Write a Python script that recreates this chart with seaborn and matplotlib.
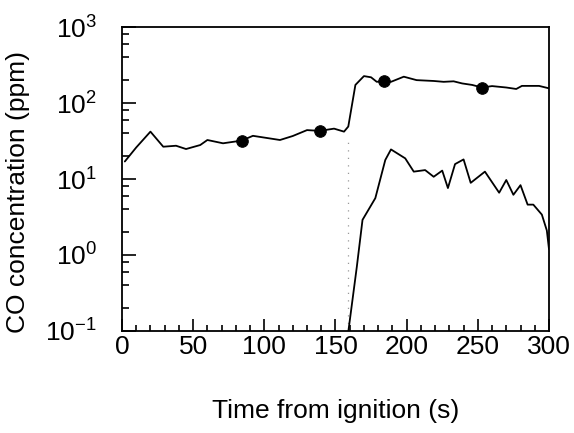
import numpy as np
import pandas as pd
import matplotlib
matplotlib.use('Agg')
import matplotlib.pyplot as plt
import matplotlib.ticker as mticker
import seaborn as sns

# upper trace (with markers)
upper_t = [2, 10, 20, 29, 38, 45, 55, 60, 71, 84, 92, 111, 120, 130, 139, 149, 156, 159,
           164, 170, 175, 179, 184, 189, 198, 207, 219, 226, 233, 239, 246, 253, 260, 270,
           277, 281, 293, 300]
upper_y = [17, 26, 42, 26.6, 27.4, 24.8, 28, 32.6, 29.5, 32, 37, 32.6, 36.8, 44, 43, 46, 42, 49,
           173, 226, 218, 190, 195, 190, 222, 200, 195, 190, 193, 181, 173, 160, 167, 160,
           153, 168, 168, 156]

# lower trace
lower_t = [158, 165, 169, 178, 185, 189, 199, 205, 213, 219, 225, 229, 234, 240, 245, 255,
           265, 270, 275, 280, 285, 289, 295, 298.5, 300]
lower_y = [0.07, 0.7, 2.9, 5.6, 17.8, 24.5, 18.7, 12.5, 13.1, 10.7, 12.9, 7.6, 15.7, 18.1, 8.9,
           12.5, 6.6, 9.7, 6.2, 8.3, 4.6, 4.6, 3.4, 2.1, 1.2]

marker_t = [84, 139, 184, 253]
marker_y = [32, 43, 195, 156]

gap_t = 159
gap_lo, gap_hi = 0.1, 35

sns.set_style('ticks')
plt.rcParams['font.family'] = ['Liberation Sans', 'DejaVu Sans']
plt.rcParams['mathtext.fontset'] = 'custom'
plt.rcParams['mathtext.rm'] = 'Liberation Sans'
plt.rcParams['mathtext.it'] = 'Liberation Sans'
plt.rcParams['mathtext.default'] = 'regular'
plt.rcParams['text.color'] = 'black'
plt.rcParams['axes.labelcolor'] = 'black'
plt.rcParams['xtick.color'] = 'black'
plt.rcParams['ytick.color'] = 'black'

fig = plt.figure(figsize=(5.74, 4.33), dpi=100)
ax = fig.add_axes([0.2125, 0.2356, 0.7439, 0.702])

upper = pd.DataFrame({'t': upper_t, 'co': upper_y})
lower = pd.DataFrame({'t': lower_t, 'co': lower_y})
marks = pd.DataFrame({'t': marker_t, 'co': marker_y})

ax.vlines(gap_t, gap_lo, gap_hi, colors='#999999', linestyles=(0, (1, 5)), lw=0.9)
sns.lineplot(data=upper, x='t', y='co', color='black', lw=1.3, ax=ax)
sns.lineplot(data=lower, x='t', y='co', color='black', lw=1.3, ax=ax)
sns.scatterplot(data=marks, x='t', y='co', color='black', s=70, edgecolor='black', ax=ax, zorder=5)

ax.set_yscale('log')
ax.set_xlim(0, 300)
ax.set_ylim(0.1, 1000)
ax.xaxis.set_major_locator(mticker.MultipleLocator(50))
ax.xaxis.set_minor_locator(mticker.MultipleLocator(10))
ax.yaxis.set_major_locator(mticker.LogLocator(base=10, numticks=10))
ax.yaxis.set_minor_locator(mticker.LogLocator(base=10, subs=[2, 4, 6, 8], numticks=10))
ax.yaxis.set_minor_formatter(mticker.NullFormatter())

ax.tick_params(which='both', direction='in', top=False, right=False, colors='black', width=1.2)
ax.tick_params(axis='x', which='major', length=9, pad=3, labelsize=19)
ax.tick_params(axis='x', which='minor', length=4.5)
ax.tick_params(axis='y', which='major', length=10, pad=18, labelsize=19)
ax.tick_params(axis='y', which='minor', length=5)

for sp in ax.spines.values():
    sp.set_visible(True)
    sp.set_color('black')
    sp.set_linewidth(1.3)

ax.set_xlabel('Time from ignition (s)', fontsize=19, color='black')
ax.set_ylabel('CO concentration (ppm)', fontsize=19, color='black')
ax.xaxis.set_label_coords(0.5, -0.225)
ax.yaxis.set_label_coords(-0.215, 0.457)

fig.savefig('out.png', dpi=100)
